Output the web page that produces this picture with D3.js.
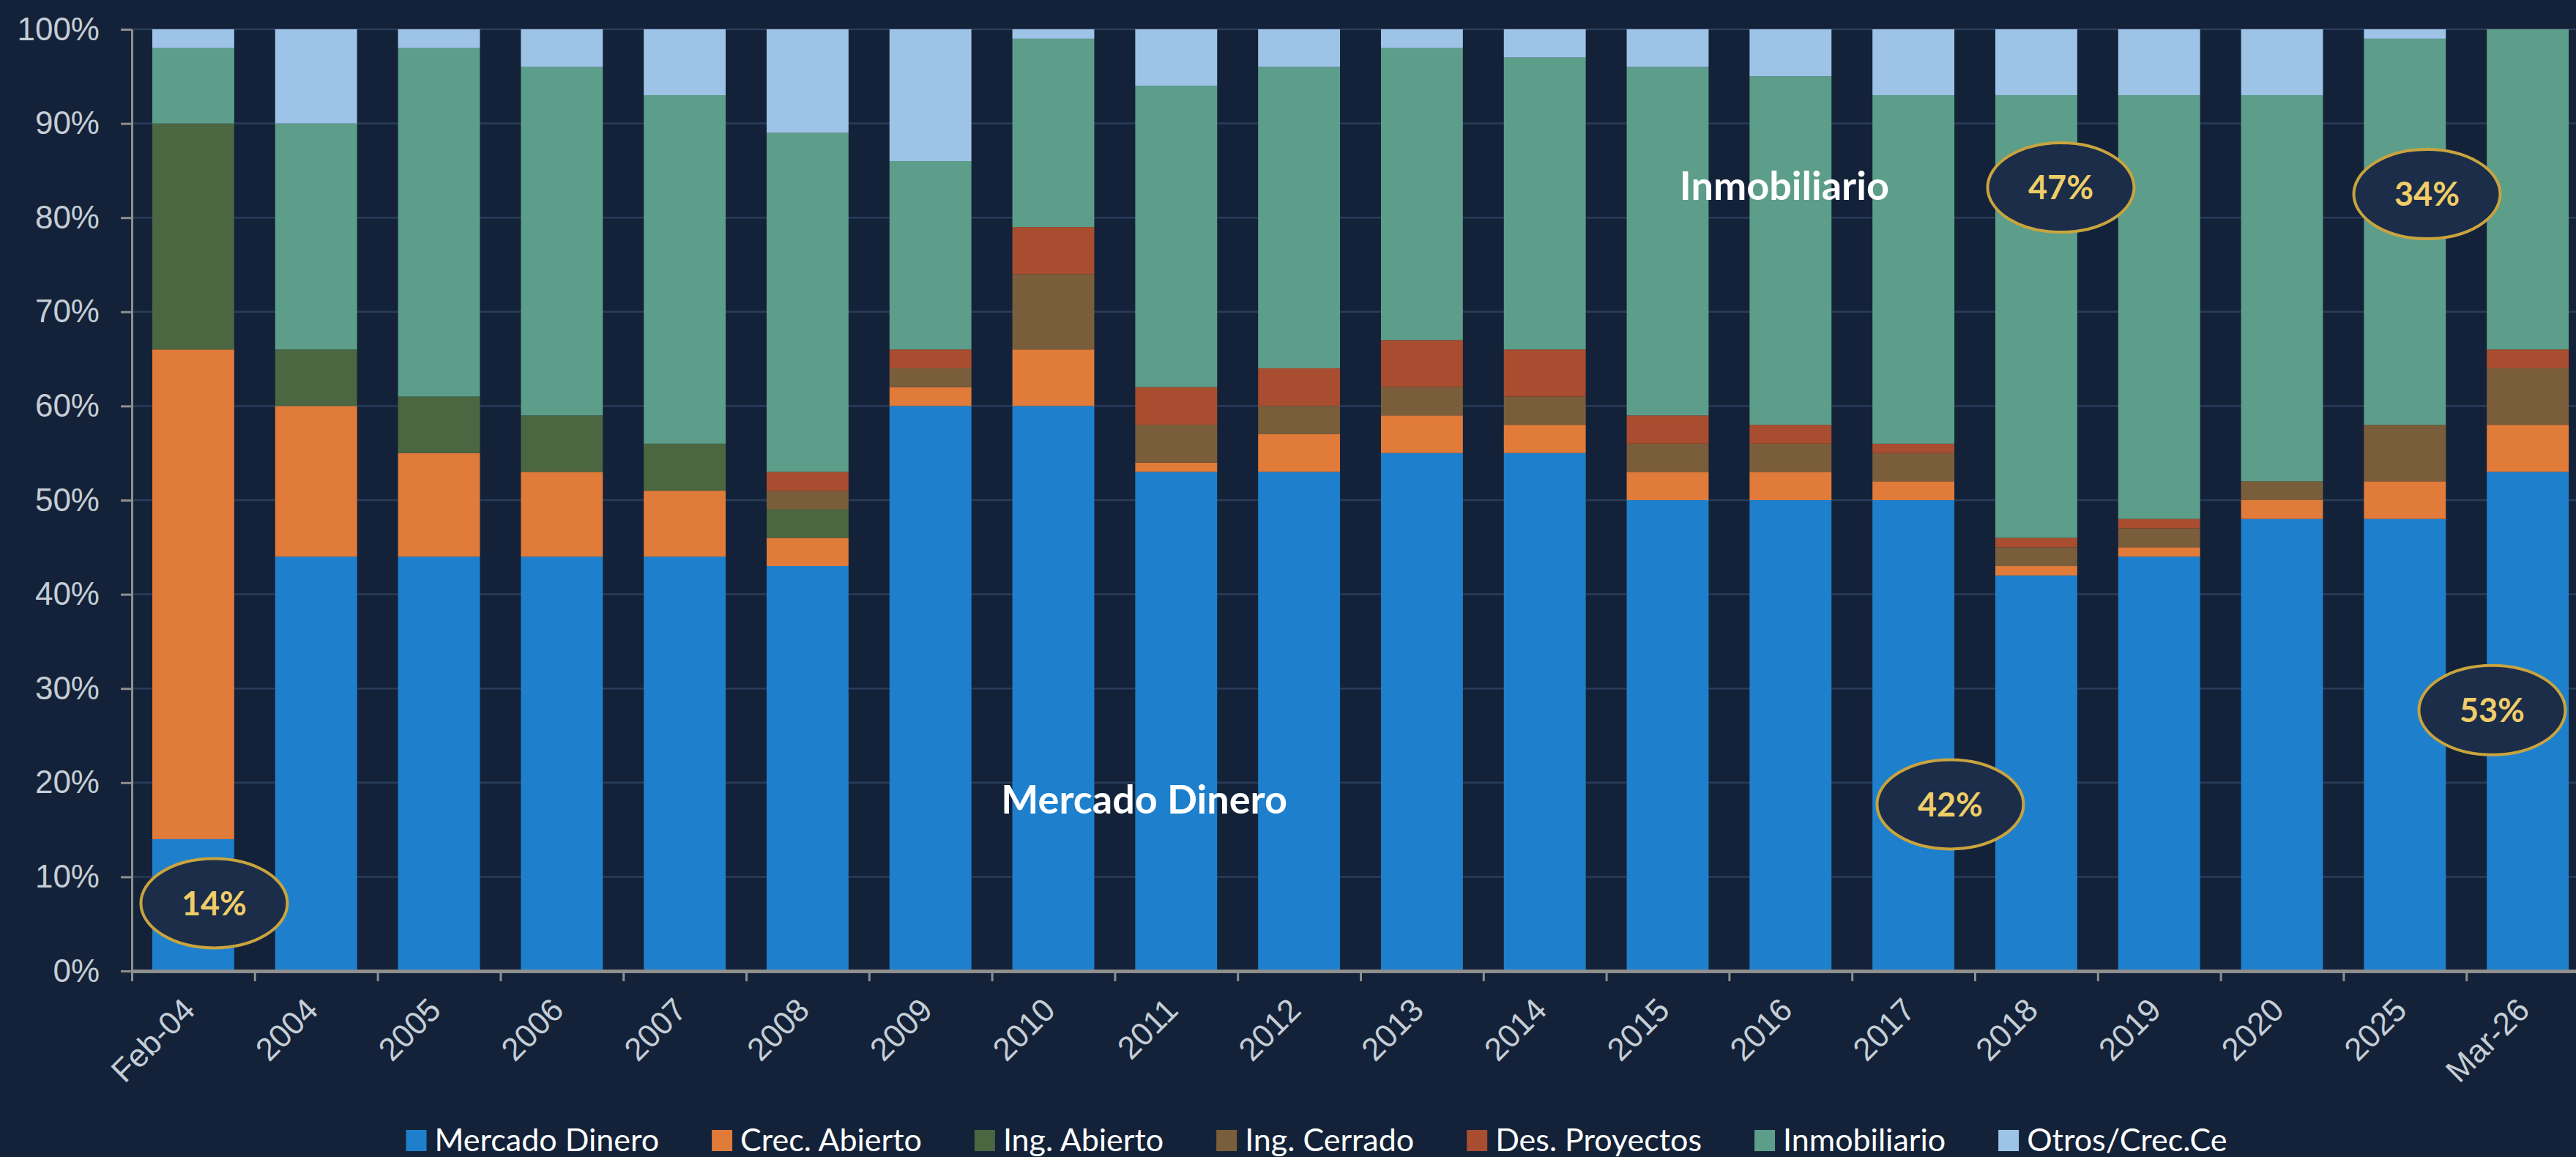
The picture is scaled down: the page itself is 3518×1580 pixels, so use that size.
<!DOCTYPE html>
<html>
<head>
<meta charset="utf-8">
<script src="https://cdn.jsdelivr.net/npm/d3@7"></script>
<style>
  body { margin: 0; background: #132238; }
  svg { display: block; }
</style>
</head>
<body>
<svg id="chart" width="3518" height="1580"></svg>
<script>
// categories and series (% of total)
const categories = ["Feb-04", "2004", "2005", "2006", "2007", "2008", "2009", "2010", "2011", "2012",
  "2013", "2014", "2015", "2016", "2017", "2018", "2019", "2020", "2025", "Mar-26"]
const mercadoDinero = [14, 44, 44, 44, 44, 43, 60, 60, 53, 53, 55, 55, 50, 50, 50, 42, 44, 48, 48, 53]
const crecAbierto = [52, 16, 11, 9, 7, 3, 2, 6, 1, 4, 4, 3, 3, 3, 2, 1, 1, 2, 4, 5]
const ingAbierto = [24, 6, 6, 6, 5, 3, 0, 0, 0, 0, 0, 0, 0, 0, 0, 0, 0, 0, 0, 0]
const ingCerrado = [0, 0, 0, 0, 0, 2, 2, 8, 4, 3, 3, 3, 3, 3, 3, 2, 2, 2, 6, 6]
const desProyectos = [0, 0, 0, 0, 0, 2, 2, 5, 4, 4, 5, 5, 3, 2, 1, 1, 1, 0, 0, 2]
const inmobiliario = [8, 24, 37, 37, 37, 36, 20, 20, 32, 32, 31, 31, 37, 37, 37, 47, 45, 41, 41, 34]
const otros = [2, 10, 2, 4, 7, 11, 14, 1, 6, 4, 2, 3, 4, 5, 7, 7, 7, 7, 1, 0]

const seriesNames = ["Mercado Dinero", "Crec. Abierto", "Ing. Abierto", "Ing. Cerrado",
  "Des. Proyectos", "Inmobiliario", "Otros/Crec.Ce"]
const seriesValues = [mercadoDinero, crecAbierto, ingAbierto, ingCerrado, desProyectos, inmobiliario, otros]
const colors = ["#1e80cc", "#e07b3a", "#4a6742", "#7a5e3b", "#a84d2f", "#5c9e89", "#9dc3e6"]

const yTicks = [0, 10, 20, 30, 40, 50, 60, 70, 80, 90, 100]

// circled callouts: category, offset in bands, y value
const callouts = [
  { cat: "Feb-04", dx: 0.17, y: 7.2, text: "14%" },
  { cat: "2018", dx: 0.2, y: 83.2, text: "47%" },
  { cat: "2017", dx: 0.3, y: 17.7, text: "42%" },
  { cat: "2025", dx: 0.18, y: 82.5, text: "34%" },
  { cat: "Mar-26", dx: -0.29, y: 27.7, text: "53%" }
]
const seriesLabels = [
  { cat: "2011", dx: -0.26, y: 16.7, text: "Mercado Dinero" },
  { cat: "2016", dx: -0.05, y: 81.9, text: "Inmobiliario" }
]

const svg = d3.select("#chart")
const axisFont = "'Liberation Sans', Arial, sans-serif"
const labelFont = "Lato, 'Open Sans', sans-serif"
const axisGray = "#8f8f8f"

const margin = { left: 180, right: 3536, top: 40, bottom: 1326 }

// table for the stack
const table = categories.map((c, i) => {
  const row = { cat: c }
  seriesNames.forEach((s, j) => row[s] = seriesValues[j][i])
  return row
})
const stacked = d3.stack().keys(seriesNames)(table)

const x = d3.scaleBand()
  .domain(categories)
  .range([margin.left, margin.right])
  .paddingInner(1 / 3)
  .paddingOuter(1 / 6)

const y = d3.scaleLinear().domain([0, 100]).range([margin.bottom, margin.top])

// gridlines
svg.append("g")
  .selectAll("line")
  .data(yTicks.slice(1))
  .join("line")
  .attr("x1", margin.left)
  .attr("x2", margin.right)
  .attr("y1", d => y(d))
  .attr("y2", d => y(d))
  .attr("stroke", "#2a3c5a")
  .attr("stroke-width", 2.5)

// bars
svg.append("g")
  .selectAll("g")
  .data(stacked)
  .join("g")
  .attr("fill", (d, i) => colors[i])
  .selectAll("rect")
  .data(d => d)
  .join("rect")
  .attr("x", d => x(d.data.cat))
  .attr("y", d => y(d[1]))
  .attr("width", x.bandwidth())
  .attr("height", d => y(d[0]) - y(d[1]))

// y axis
const yAxis = svg.append("g")
  .attr("transform", `translate(${margin.left},0)`)
  .call(d3.axisLeft(y).tickValues(yTicks).tickFormat(d => d + "%").tickSize(15).tickSizeOuter(0).tickPadding(29))
yAxis.select(".domain").attr("stroke", axisGray).attr("stroke-width", 3)
yAxis.selectAll(".tick line").attr("stroke", axisGray).attr("stroke-width", 3)
yAxis.selectAll("text")
  .attr("fill", "#c5cdd6")
  .style("font-family", axisFont)
  .style("font-size", "44px")

// x axis: tick marks between categories
const edges = d3.scaleLinear().domain([0, categories.length]).range([margin.left, margin.right])
const xTickAxis = svg.append("g")
  .attr("transform", `translate(0,${margin.bottom})`)
  .call(d3.axisBottom(edges).tickValues(d3.range(categories.length + 1)).tickFormat("").tickSize(14).tickSizeOuter(0))
xTickAxis.select(".domain").attr("stroke", axisGray).attr("stroke-width", 5)
xTickAxis.selectAll(".tick line").attr("stroke", axisGray).attr("stroke-width", 3)

// x labels, rotated
const xLabels = svg.append("g")
  .attr("transform", `translate(0,${margin.bottom})`)
  .call(d3.axisBottom(x).tickSize(0))
xLabels.select(".domain").remove()
xLabels.selectAll("text")
  .attr("x", 0)
  .attr("y", 0)
  .attr("dy", 0)
  .attr("transform", "translate(5,56) rotate(-45)")
  .style("text-anchor", "end")
  .attr("fill", "#c5cdd6")
  .style("font-family", axisFont)
  .style("font-size", "44px")

// series labels on the chart
svg.append("g")
  .selectAll("text")
  .data(seriesLabels)
  .join("text")
  .attr("x", d => x(d.cat) + x.bandwidth() / 2 + d.dx * x.step())
  .attr("y", d => y(d.y))
  .attr("text-anchor", "middle")
  .attr("fill", "#ffffff")
  .style("font-family", labelFont)
  .style("font-weight", "bold")
  .style("font-size", "54px")
  .text(d => d.text)

// callout ellipses
const co = svg.append("g")
  .selectAll("g")
  .data(callouts)
  .join("g")
  .attr("transform", d => `translate(${x(d.cat) + x.bandwidth() / 2 + d.dx * x.step()},${y(d.y)})`)
co.append("ellipse")
  .attr("rx", 100)
  .attr("ry", 61)
  .attr("fill", "#1b2d48")
  .attr("stroke", "#c9a43e")
  .attr("stroke-width", 4)
co.append("text")
  .attr("text-anchor", "middle")
  .attr("dy", "0.36em")
  .attr("fill", "#f0cd68")
  .style("font-family", labelFont)
  .style("font-weight", "bold")
  .style("font-size", "45px")
  .text(d => d.text)

// legend, centred below the chart
const legend = svg.append("g").attr("transform", "translate(0,1572)")
const items = legend.selectAll("g")
  .data(seriesNames)
  .join("g")
items.append("rect")
  .attr("y", -29)
  .attr("width", 28)
  .attr("height", 29)
  .attr("fill", (d, i) => colors[i])
items.append("text")
  .attr("x", 39)
  .attr("fill", "#ffffff")
  .style("font-family", labelFont)
  .style("font-size", "43px")
  .text(d => d)

let offset = 0
const starts = []
items.each(function () {
  const w = 39 + d3.select(this).select("text").node().getComputedTextLength()
  starts.push(offset)
  offset += w + 72
})
const total = offset - 72
const start = 1798 - total / 2
items.attr("transform", (d, i) => `translate(${start + starts[i]},0)`)
</script>
</body>
</html>
